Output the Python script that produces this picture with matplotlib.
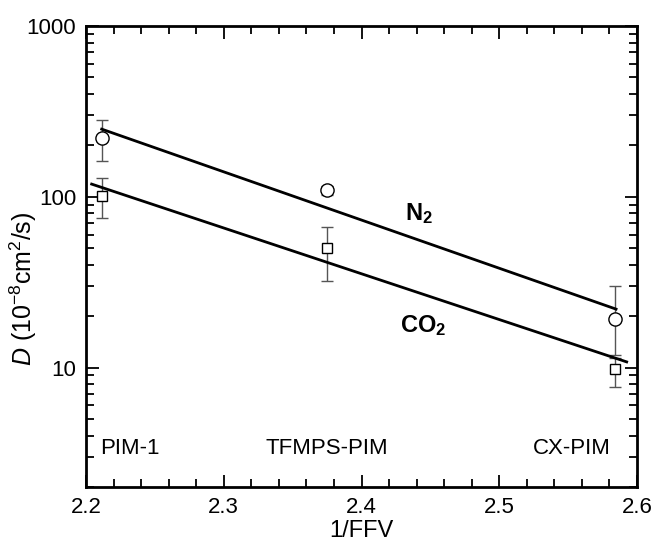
import numpy as np
import matplotlib
matplotlib.use("Agg")
import matplotlib.pyplot as plt
from matplotlib.ticker import FixedLocator, NullFormatter, MultipleLocator, LogLocator

plt.rcParams['font.family'] = ['Liberation Sans', 'DejaVu Sans']
plt.rcParams['mathtext.fontset'] = 'custom'
plt.rcParams['mathtext.rm'] = 'Liberation Sans'
plt.rcParams['mathtext.it'] = 'Liberation Sans:italic'
plt.rcParams['mathtext.bf'] = 'Liberation Sans:bold'

# polymers and their 1/FFV
polymers = ["PIM-1", "TFMPS-PIM", "CX-PIM"]
inv_ffv = [2.2116, 2.375, 2.584]

# N2 diffusivity (1e-8 cm2/s) with error bars
d_n2 = [220, 109, 19.3]
n2_err_lo = [59, 7, 7.5]
n2_err_hi = [62, 6, 10.6]

# CO2 diffusivity
d_co2 = [101, 50, 9.8]
co2_err_lo = [26, 18, 2.1]
co2_err_hi = [27, 17, 1.6]

# fitted lines (end points)
fit_n2_x = [2.2114, 2.5848]
fit_n2_y = [249, 22.0]
fit_co2_x = [2.2041, 2.5925]
fit_co2_y = [118.7, 10.8]

fig = plt.figure(figsize=(6.53, 5.44), dpi=100)
ax = fig.add_axes([0.1317, 0.1048, 0.8438, 0.8474])

ax.errorbar(inv_ffv, d_n2, yerr=[n2_err_lo, n2_err_hi], fmt='none',
            ecolor='#555555', elinewidth=1, capsize=4.5, capthick=1, zorder=2)
ax.errorbar(inv_ffv, d_co2, yerr=[co2_err_lo, co2_err_hi], fmt='none',
            ecolor='#555555', elinewidth=1, capsize=4.5, capthick=1, zorder=2)

ax.plot(fit_n2_x, fit_n2_y, color='black', lw=2, zorder=3)
ax.plot(fit_co2_x, fit_co2_y, color='black', lw=2, zorder=3)

ax.plot(inv_ffv, d_n2, 'o', ms=9.5, mfc='white', mec='black', mew=1, zorder=4)
ax.plot(inv_ffv, d_co2, 's', ms=7.5, mfc='white', mec='black', mew=1, zorder=4)

ax.set_yscale('log')
ax.set_xlim(2.2, 2.6)
ax.set_ylim(2, 1000)

ax.xaxis.set_minor_locator(MultipleLocator(0.02))
ax.set_xticks([2.2, 2.3, 2.4, 2.5, 2.6])
ax.set_xticklabels(["2.2", "2.3", "2.4", "2.5", "2.6"])
ax.yaxis.set_major_locator(FixedLocator([10, 100, 1000]))
ax.set_yticklabels(["10", "100", "1000"])
ax.yaxis.set_minor_locator(LogLocator(base=10, subs=np.arange(2, 10)))
ax.yaxis.set_minor_formatter(NullFormatter())

ax.tick_params(which='both', direction='in', top=True, right=True,
               labelsize=16, width=1.3)
ax.tick_params(which='major', length=9, pad=7)
ax.tick_params(which='minor', length=6)
for sp in ax.spines.values():
    sp.set_linewidth(2)

ax.set_xlabel("1/FFV", fontsize=17, labelpad=2)
ax.set_ylabel(r"$D$ (10$^{-8}$cm$^2$/s)", fontsize=18)
ax.yaxis.set_label_coords(-0.085, 0.43)

ax.text(2.2102, 3.1, polymers[0], fontsize=16, ha='left', va='baseline')
ax.text(2.375, 3.1, polymers[1], fontsize=16, ha='center', va='baseline')
ax.text(2.553, 3.1, polymers[2], fontsize=16, ha='center', va='baseline')

ax.text(2.4316, 73, r"$\mathbf{N_2}$", fontsize=17, ha='left', va='baseline')
ax.text(2.428, 16.2, r"$\mathbf{CO_2}$", fontsize=17, ha='left', va='baseline')

fig.savefig("out.png", dpi=100)
